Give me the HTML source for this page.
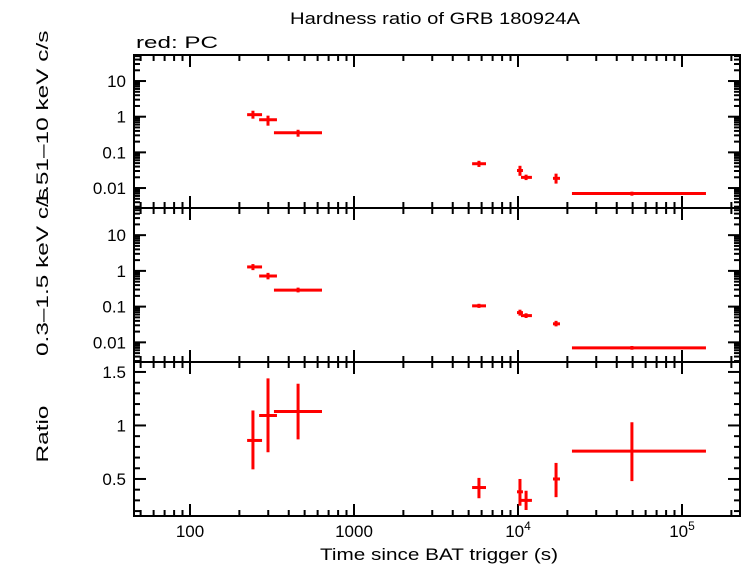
<!DOCTYPE html>
<html><head><meta charset="utf-8"><style>
body{margin:0;background:#fff;}
svg{display:block;font-family:"Liberation Sans",sans-serif;}
</style></head><body>
<svg id="chart" width="742" height="566" viewBox="0 0 742 566" xmlns="http://www.w3.org/2000/svg">
<text x="435" y="24" font-size="17" text-anchor="middle" textLength="290" lengthAdjust="spacingAndGlyphs">Hardness ratio of GRB 180924A</text>
<text x="136" y="48" font-size="17" textLength="82" lengthAdjust="spacingAndGlyphs">red: PC</text>
<text x="439" y="560" font-size="17" text-anchor="middle" textLength="238" lengthAdjust="spacingAndGlyphs">Time since BAT trigger (s)</text>
<text transform="translate(48,118) rotate(-90)" font-size="17" text-anchor="middle" textLength="175" lengthAdjust="spacingAndGlyphs">1.51–10 keV c/s</text>
<text transform="translate(48,272) rotate(-90)" font-size="17" text-anchor="middle" textLength="168" lengthAdjust="spacingAndGlyphs">0.3–1.5 keV c/s</text>
<text transform="translate(48,434) rotate(-90)" font-size="17" text-anchor="middle" textLength="57" lengthAdjust="spacingAndGlyphs">Ratio</text>
<g id="plot"></g>
</svg>
<script>
// data
const tMid = [242, 299, 456, 5780, 10280, 11200, 17060, 49500];
const tLo  = [223, 264, 325, 5250, 9860, 10430, 16340, 21330];
const tHi  = [275, 339, 638, 6380, 10720, 12160, 18030, 140000];
const hard = [1.14, 0.82, 0.356, 0.048, 0.031, 0.0199, 0.0187, 0.0070];
const hardLo = [0.88, 0.56, 0.275, 0.039, 0.022, 0.0167, 0.0133, 0.0061];
const hardHi = [1.47, 1.07, 0.43, 0.058, 0.042, 0.0237, 0.0253, 0.0079];
const soft = [1.29, 0.72, 0.29, 0.105, 0.068, 0.056, 0.033, 0.0070];
const softLo = [1.05, 0.58, 0.25, 0.092, 0.056, 0.048, 0.028, 0.0062];
const softHi = [1.55, 0.88, 0.34, 0.12, 0.082, 0.065, 0.04, 0.0079];
const ratio = [0.86, 1.093, 1.13, 0.42, 0.38, 0.30, 0.50, 0.76];
const ratioLo = [0.59, 0.75, 0.87, 0.32, 0.25, 0.21, 0.33, 0.48];
const ratioHi = [1.14, 1.44, 1.39, 0.51, 0.50, 0.39, 0.65, 1.03];
const xTickVals = [100, 1000, 10000, 100000];
const logTickVals = [0.01, 0.1, 1, 10];
const logTickLabels = ["0.01", "0.1", "1", "10"];
const ratioTickVals = [0.5, 1, 1.5];
const ratioTickLabels = ["0.5", "1", "1.5"];

const NS = "http://www.w3.org/2000/svg";
const g = document.getElementById("plot");
const X0 = 134, X1 = 740;
const xs = v => 190 + (Math.log10(v) - 2) * 164;
function mk(tag, attrs, parent){const e=document.createElementNS(NS,tag);for(const k in attrs)e.setAttribute(k,attrs[k]);(parent||g).appendChild(e);return e;}
function logY(top, bot, topV, botV){const a=Math.log10(topV),b=Math.log10(botV);return v=>top+(a-Math.log10(v))/(a-b)*(bot-top);}
function linY(top, bot, topV, botV){return v=>top+(topV-v)/(topV-botV)*(bot-top);}

const panels = [
 {name:"hard", top:55, bot:208, y:logY(55,208,Math.pow(10,1.73),Math.pow(10,-2.56)), log:true, vals:hard, lo:hardLo, hi:hardHi, tv:logTickVals, tl:logTickLabels, yr:[Math.pow(10,-2.56),Math.pow(10,1.73)]},
 {name:"soft", top:208, bot:362, y:logY(208,362,Math.pow(10,1.76),Math.pow(10,-2.55)), log:true, vals:soft, lo:softLo, hi:softHi, tv:logTickVals, tl:logTickLabels, yr:[Math.pow(10,-2.55),Math.pow(10,1.76)]},
 {name:"ratio", top:362, bot:516, y:linY(362,516,1.593,0.154), log:false, vals:ratio, lo:ratioLo, hi:ratioHi, tv:ratioTickVals, tl:ratioTickLabels, yr:[0.154,1.593]}
];

panels.forEach((p,pi)=>{
  const frame = mk("rect",{x:X0,y:p.top,width:X1-X0,height:p.bot-p.top,fill:"none",stroke:"#000","stroke-width":2});
  
  
  for(let d=1; d<=5; d++){
    for(let m=1;m<10;m++){
      const v=m*Math.pow(10,d);
      const x=xs(v); if(x<=X0||x>=X1) continue;
      const len = m===1?12:6;
      const t1=mk("line",{x1:x,x2:x,y1:p.bot,y2:p.bot-len,stroke:"#000","stroke-width":2});
      
      
      const t2=mk("line",{x1:x,x2:x,y1:p.top,y2:p.top+len,stroke:"#000","stroke-width":2});
      
      
    }
  }
  if(p.log){
    for(let d=-3; d<=1; d++){
      for(let m=1;m<10;m++){
        const v=m*Math.pow(10,d);
        if(v<p.yr[0]||v>p.yr[1]) continue;
        const y=p.y(v); const len=m===1?12:6;
        const t=mk("line",{x1:X0,x2:X0+len,y1:y,y2:y,stroke:"#000","stroke-width":2});
        
        
        const t2=mk("line",{x1:X1,x2:X1-len,y1:y,y2:y,stroke:"#000","stroke-width":2});
        
        
      }
    }
  } else {
    for(let i=2;i<=15;i++){
      const v=i/10; const y=p.y(v); const len=(i%5===0)?12:6;
      const t=mk("line",{x1:X0,x2:X0+len,y1:y,y2:y,stroke:"#000","stroke-width":2});
      
      
      const t2=mk("line",{x1:X1,x2:X1-len,y1:y,y2:y,stroke:"#000","stroke-width":2});
      
      
    }
  }
  p.tv.forEach((v,i)=>{
    const tx=mk("text",{x:X0-8,y:p.y(v)+6,"font-size":17,"text-anchor":"end"});
    tx.textContent=p.tl[i];
    
    
  });
  p.vals.forEach((v,i)=>{
    const cx=xs(tMid[i]), cy=p.y(v);
    const h=mk("line",{x1:xs(tLo[i]),x2:xs(tHi[i]),y1:cy,y2:cy,stroke:"#f00","stroke-width":3});
    
    
    const vv=mk("line",{x1:cx,x2:cx,y1:p.y(p.lo[i]),y2:p.y(p.hi[i]),stroke:"#f00","stroke-width":3});
    
    
  });
});
const xl = [["100",""],["1000",""],["10","4"],["10","5"]];
xTickVals.forEach((v,i)=>{
  const tx=mk("text",{x:xs(v),y:537,"font-size":17,"text-anchor":"middle"});
  
  
  tx.textContent=xl[i][0];
  if(xl[i][1]){
    const s=mk("tspan",{dy:-7,"font-size":12},tx);
    s.textContent=xl[i][1];
  }
});
</script>
</body></html>
